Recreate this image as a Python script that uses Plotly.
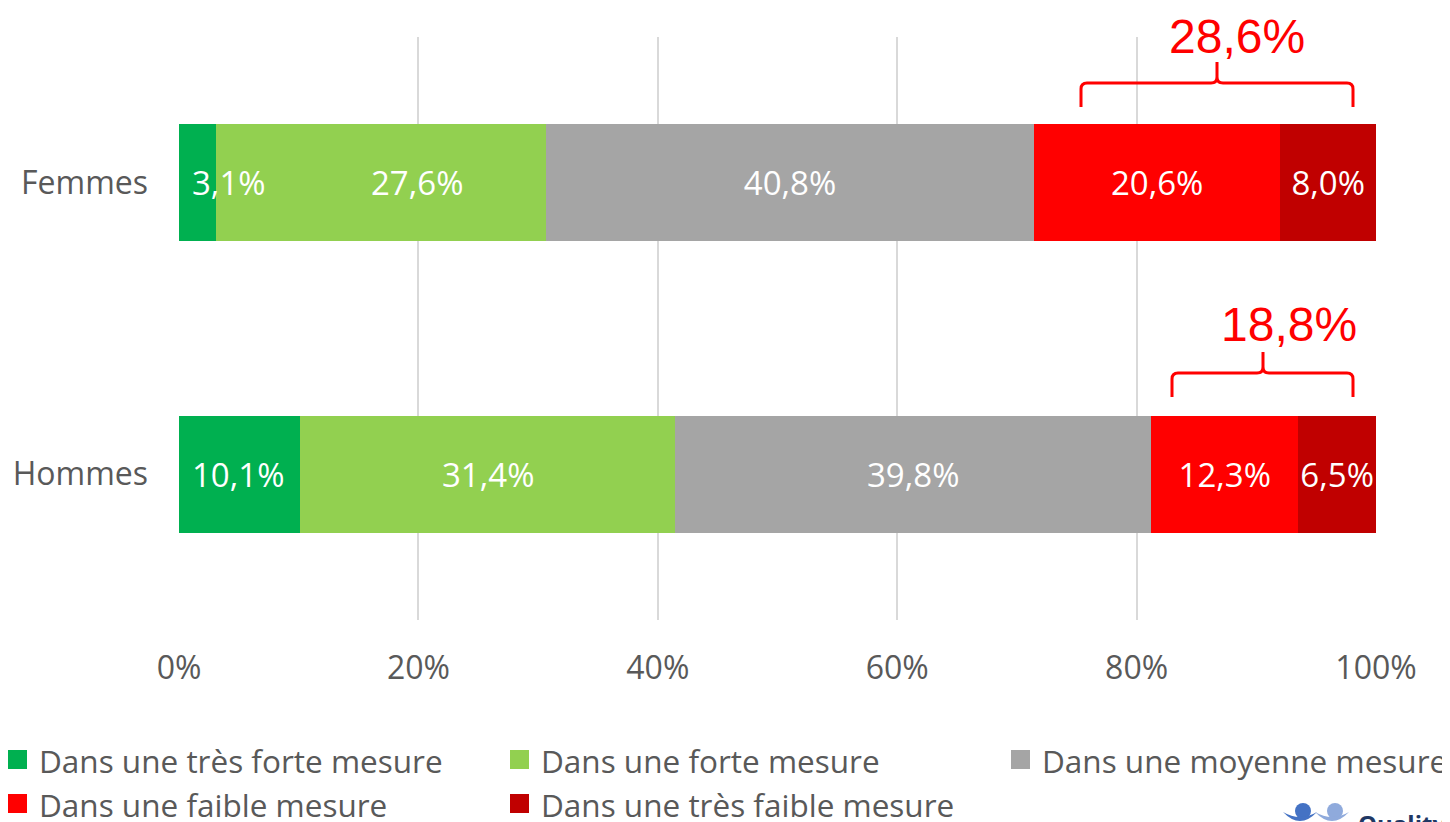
import plotly.graph_objects as go

categories = ["Femmes", "Hommes"]
series_names = [
    "Dans une très forte mesure",
    "Dans une forte mesure",
    "Dans une moyenne mesure",
    "Dans une faible mesure",
    "Dans une très faible mesure",
]
very_strong = [3.1, 10.1]
strong = [27.6, 31.4]
medium = [40.8, 39.8]
weak = [20.6, 12.3]
very_weak = [8.0, 6.5]
colors = ["#00B050", "#92D050", "#A5A5A5", "#FF0000", "#C00000"]
tick_vals = [0, 20, 40, 60, 80, 100]

series = [very_strong, strong, medium, weak, very_weak]

# The page body has an 8px margin: work in screen pixels and shift.
OFF = 8
SW, SH = 1450, 822
W, H = SW - OFF, SH - OFF
# plot area in screen px
PX0, PX1, PY0, PY1 = 179, 1376, 37, 620
ML, MR, MT, MB = PX0 - OFF, W - (PX1 - OFF), PY0 - OFF, H - (PY1 - OFF)
PW, PH = PX1 - PX0, PY1 - PY0


def px_to_paper_x(px):
    return (px - PX0) / PW


def px_to_paper_y(py):
    return (PY1 - py) / PH


def fmt(v):
    return f"{v:.1f}".replace(".", ",") + "%"


font_gray = "#595959"
label_font = dict(color="white", size=33, family="Open Sans")

fig = go.Figure()
for i, (name, vals, col) in enumerate(zip(series_names, series, colors)):
    fig.add_trace(go.Bar(
        y=categories, x=vals, name=name, orientation="h",
        marker=dict(color=col, line=dict(width=0)),
        text=[fmt(v) for v in vals] if i > 1 else None,
        textposition="inside",
        insidetextanchor="middle",
        constraintext="none",
        textangle=0,
        textfont=label_font,
        showlegend=False,
        cliponaxis=False,
    ))

# labels of the first segment, left aligned so they can overflow the narrow bar
for cat, v in zip(categories, very_strong):
    fig.add_annotation(x=0, y=cat, xref="x", yref="y", text=fmt(v), showarrow=False,
                       xanchor="left", yanchor="middle", xshift=11, font=label_font)
# labels of the second segment (the Femmes one is nudged right as in the original)
strong_label_shift = [36, 0]
for cat, v0, v, sh in zip(categories, very_strong, strong, strong_label_shift):
    fig.add_annotation(x=v0 + v / 2, y=cat, xref="x", yref="y", text=fmt(v), showarrow=False,
                       xanchor="center", yanchor="middle", xshift=sh, font=label_font)

# Brackets over the "faible" totals (screen px)
brackets = [
    # category index, left, right, tip x, top y, end y, tip y, label x, label y
    (0, 1081, 1353, 1217, 83, 107, 62, 1237, 36),
    (1, 1172, 1353, 1263, 373, 397, 352, 1289, 325),
]
for ci, lx, rx, tx, ty, ey, tipy, labx, laby in brackets:
    L, R, T = px_to_paper_x(lx), px_to_paper_x(rx), px_to_paper_x(tx)
    yt, ye, ytip = px_to_paper_y(ty), px_to_paper_y(ey), px_to_paper_y(tipy)
    dx = 6 / PW
    dy = 6 / PH
    path = (f"M {L},{ye} L {L},{yt - dy} Q {L},{yt} {L + dx},{yt} "
            f"L {T - dx},{yt} Q {T},{yt} {T},{yt + dy} L {T},{ytip} "
            f"M {T},{yt + dy} Q {T},{yt} {T + dx},{yt} "
            f"L {R - dx},{yt} Q {R},{yt} {R},{yt - dy} L {R},{ye}")
    fig.add_shape(type="path", path=path, xref="paper", yref="paper",
                  line=dict(color="#FF0000", width=3))
    total = weak[ci] + very_weak[ci]
    fig.add_annotation(x=px_to_paper_x(labx), y=px_to_paper_y(laby), xref="paper", yref="paper",
                       text=fmt(total), showarrow=False,
                       font=dict(color="#FF0000", size=48, family="Liberation Sans"),
                       xanchor="center", yanchor="middle")

# Manual legend (screen px)
leg_pos = [(8, 760), (510, 760), (1011, 760), (8, 804), (510, 804)]
for (lx, ly), name, col in zip(leg_pos, series_names, colors):
    fig.add_shape(type="rect", xref="paper", yref="paper",
                  x0=px_to_paper_x(lx), x1=px_to_paper_x(lx + 19),
                  y0=px_to_paper_y(ly - 10), y1=px_to_paper_y(ly + 9),
                  fillcolor=col, line=dict(width=0))
    fig.add_annotation(x=px_to_paper_x(lx + 29), y=px_to_paper_y(ly + 1), xref="paper", yref="paper",
                       text=name, showarrow=False, xanchor="left", yanchor="middle",
                       font=dict(color=font_gray, size=31.5, family="Open Sans"))

# Partial logo at bottom right
for cx, r, c in [(1303, 8, "#4472C4"), (1335, 8, "#8FAADC")]:
    fig.add_shape(type="circle", xref="paper", yref="paper",
                  x0=px_to_paper_x(cx - r), x1=px_to_paper_x(cx + r),
                  y0=px_to_paper_y(811 + r), y1=px_to_paper_y(811 - r),
                  fillcolor=c, line=dict(width=0))
    # swoosh under each head
    a, b = px_to_paper_x(cx - 20), px_to_paper_x(cx + 14)
    m = px_to_paper_x(cx - 3)
    y_top, y_mid, y_bot = px_to_paper_y(812), px_to_paper_y(822), px_to_paper_y(830)
    fig.add_shape(type="path", xref="paper", yref="paper",
                  path=f"M {a},{y_top} Q {m},{y_bot} {b},{y_top} Q {m},{y_mid} {a},{y_top} Z",
                  fillcolor=c, line=dict(width=0))
fig.add_annotation(x=px_to_paper_x(1356), y=px_to_paper_y(805), xref="paper", yref="paper",
                   text="<b>Quality</b>", showarrow=False, xanchor="left", yanchor="top",
                   font=dict(color="#1F3864", size=24, family="Open Sans"))

fig.update_layout(
    barmode="stack",
    barnorm="percent",
    bargap=0.6,
    width=W, height=H,
    margin=dict(l=ML, r=MR, t=MT, b=MB, autoexpand=False),
    plot_bgcolor="white", paper_bgcolor="white",
    showlegend=False,
    font=dict(family="Open Sans", color=font_gray),
)
fig.update_xaxes(
    range=[0, 100], tickvals=tick_vals, ticktext=[f"{v}%" for v in tick_vals],
    showgrid=True, gridcolor="#D9D9D9", gridwidth=1.5,
    zeroline=False, showline=False, ticks="", automargin=False,
    tickfont=dict(size=32, color=font_gray, family="Open Sans"),
    ticklabelstandoff=26,
)
fig.update_yaxes(
    categoryorder="array", categoryarray=categories, autorange="reversed",
    showgrid=False, zeroline=False, showline=False, ticks="", automargin=False,
    tickfont=dict(size=32, color=font_gray, family="Open Sans"),
    ticklabelstandoff=30,
)

fig.write_html("out.html")
